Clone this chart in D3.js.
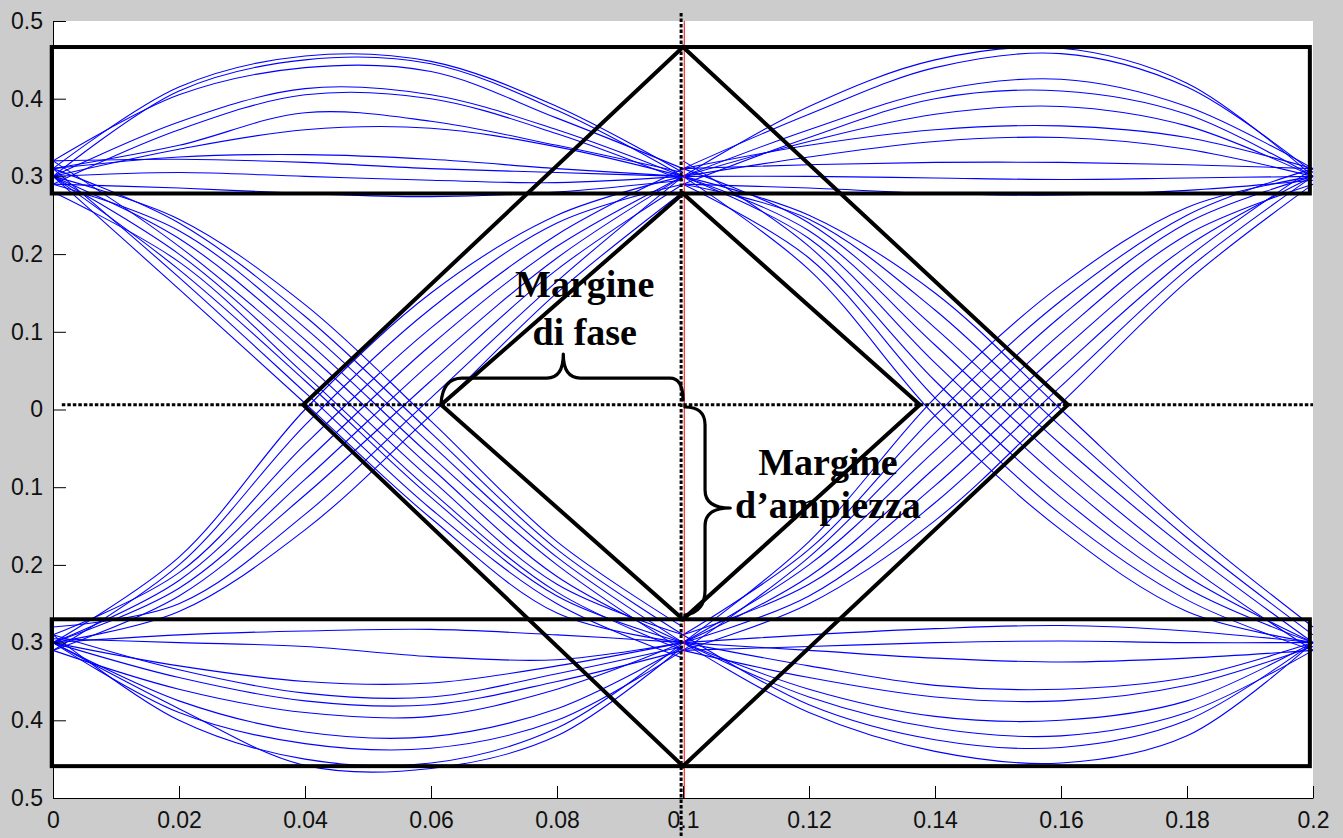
<!DOCTYPE html>
<html>
<head>
<meta charset="utf-8">
<script src="https://cdn.jsdelivr.net/npm/d3@7"></script>
<style>
  body { margin: 0; background: #cccccc; }
  svg { display: block; }
</style>
</head>
<body>
<svg width="1343" height="838"></svg>
<script>
var svg = d3.select("svg");

var width = 1343;
var height = 838;
var plotLeft = 53;
var plotRight = 1313;
var plotTop = 21;
var plotBottom = 798;

// tick labels (the minus signs are cut off in the original figure)
var xTicks = [0, 0.02, 0.04, 0.06, 0.08, 0.1, 0.12, 0.14, 0.16, 0.18, 0.2];
var yTicks = [0.5, 0.4, 0.3, 0.2, 0.1, 0, -0.1, -0.2, -0.3, -0.4, -0.5];

// sample instants of each half of the eye
var xLeft = [0, 0.02, 0.04, 0.06, 0.08, 0.1];
var xRight = [0.1, 0.12, 0.14, 0.16, 0.18, 0.2];

// traces, one value per sample instant
var highLeft = [
  [0.31, 0.415, 0.455, 0.448, 0.39, 0.305],
  [0.30, 0.41, 0.45, 0.445, 0.385, 0.30],
  [0.32, 0.405, 0.44, 0.435, 0.375, 0.31],
  [0.30, 0.37, 0.413, 0.405, 0.36, 0.30],
  [0.29, 0.36, 0.405, 0.40, 0.355, 0.295],
  [0.31, 0.34, 0.382, 0.371, 0.34, 0.305],
  [0.30, 0.335, 0.36, 0.362, 0.338, 0.30],
  [0.31, 0.325, 0.328, 0.322, 0.31, 0.30],
  [0.32, 0.322, 0.318, 0.31, 0.305, 0.30],
  [0.30, 0.305, 0.30, 0.295, 0.292, 0.30],
  [0.29, 0.285, 0.278, 0.274, 0.28, 0.295]
];
var lowLeft = [
  [-0.30, -0.29, -0.285, -0.283, -0.29, -0.30],
  [-0.295, -0.30, -0.305, -0.318, -0.322, -0.30],
  [-0.30, -0.33, -0.35, -0.352, -0.33, -0.30],
  [-0.29, -0.335, -0.365, -0.37, -0.34, -0.305],
  [-0.30, -0.345, -0.375, -0.38, -0.35, -0.31],
  [-0.31, -0.36, -0.39, -0.395, -0.36, -0.30],
  [-0.30, -0.375, -0.415, -0.421, -0.385, -0.305],
  [-0.30, -0.39, -0.43, -0.436, -0.40, -0.31],
  [-0.29, -0.40, -0.45, -0.455, -0.41, -0.30],
  [-0.30, -0.385, -0.458, -0.462, -0.42, -0.305]
];
var fallLeft = [
  [0.30, 0.245, 0.135, -0.015, -0.17, -0.28],
  [0.31, 0.24, 0.12, -0.03, -0.18, -0.29],
  [0.29, 0.23, 0.105, -0.045, -0.19, -0.30],
  [0.30, 0.22, 0.09, -0.06, -0.20, -0.31],
  [0.32, 0.21, 0.075, -0.075, -0.215, -0.30],
  [0.30, 0.20, 0.06, -0.09, -0.225, -0.29],
  [0.28, 0.19, 0.045, -0.105, -0.235, -0.31],
  [0.30, 0.18, 0.037, -0.113, -0.24, -0.30],
  [0.31, 0.17, 0.022, -0.128, -0.25, -0.32],
  [0.30, 0.155, 0.008, -0.14, -0.262, -0.30]
];
var riseLeft = [
  [-0.30, -0.19, 0.00, 0.15, 0.25, 0.30],
  [-0.31, -0.20, -0.02, 0.13, 0.24, 0.29],
  [-0.29, -0.21, -0.045, 0.105, 0.225, 0.31],
  [-0.30, -0.22, -0.068, 0.083, 0.21, 0.30],
  [-0.30, -0.23, -0.09, 0.06, 0.195, 0.30],
  [-0.31, -0.24, -0.11, 0.037, 0.18, 0.29],
  [-0.28, -0.25, -0.135, 0.015, 0.165, 0.30],
  [-0.30, -0.26, -0.155, -0.007, 0.15, 0.28]
];
var highRight = [
  [0.30, 0.39, 0.45, 0.465, 0.42, 0.30],
  [0.31, 0.38, 0.44, 0.458, 0.415, 0.305],
  [0.30, 0.36, 0.41, 0.425, 0.39, 0.31],
  [0.29, 0.35, 0.40, 0.41, 0.38, 0.30],
  [0.30, 0.345, 0.38, 0.39, 0.365, 0.30],
  [0.31, 0.34, 0.36, 0.365, 0.35, 0.31],
  [0.30, 0.325, 0.345, 0.35, 0.335, 0.30],
  [0.31, 0.315, 0.318, 0.318, 0.315, 0.31],
  [0.30, 0.30, 0.298, 0.296, 0.298, 0.30],
  [0.29, 0.285, 0.278, 0.276, 0.282, 0.295]
];
var lowRight = [
  [-0.30, -0.29, -0.282, -0.278, -0.285, -0.30],
  [-0.31, -0.305, -0.30, -0.298, -0.30, -0.30],
  [-0.30, -0.31, -0.32, -0.325, -0.32, -0.31],
  [-0.30, -0.33, -0.355, -0.36, -0.345, -0.30],
  [-0.31, -0.345, -0.37, -0.375, -0.355, -0.305],
  [-0.30, -0.36, -0.395, -0.40, -0.375, -0.30],
  [-0.30, -0.37, -0.41, -0.42, -0.39, -0.31],
  [-0.29, -0.38, -0.425, -0.435, -0.40, -0.30],
  [-0.30, -0.39, -0.44, -0.455, -0.42, -0.30]
];
var fallRight = [
  [0.30, 0.25, 0.15, 0.00, -0.15, -0.28],
  [0.29, 0.245, 0.128, -0.022, -0.165, -0.29],
  [0.31, 0.24, 0.105, -0.045, -0.18, -0.30],
  [0.30, 0.23, 0.083, -0.068, -0.20, -0.31],
  [0.30, 0.22, 0.06, -0.09, -0.215, -0.30],
  [0.32, 0.21, 0.037, -0.113, -0.23, -0.30],
  [0.29, 0.195, 0.015, -0.135, -0.245, -0.31],
  [0.30, 0.18, -0.008, -0.155, -0.26, -0.30]
];
var riseRight = [
  [-0.30, -0.17, 0.015, 0.16, 0.26, 0.30],
  [-0.29, -0.18, -0.008, 0.14, 0.25, 0.31],
  [-0.31, -0.19, -0.03, 0.12, 0.24, 0.30],
  [-0.30, -0.20, -0.053, 0.098, 0.225, 0.29],
  [-0.30, -0.215, -0.075, 0.075, 0.21, 0.30],
  [-0.29, -0.225, -0.098, 0.053, 0.195, 0.31],
  [-0.30, -0.24, -0.12, 0.03, 0.18, 0.30],
  [-0.31, -0.25, -0.143, 0.008, 0.165, 0.29]
];

// annotation shapes, in data units
var rectX = [-0.0002, 0.1995];
var rectHigh = [0.4665, 0.278];
var rectLow = [-0.270, -0.459];
var outerDiamond = [[0.1, 0.4665], [0.1611, 0.006], [0.1, -0.459], [0.0397, 0.006]];
var innerDiamond = [[0.1, 0.278], [0.1376, 0.006], [0.1, -0.270], [0.0616, 0.006]];
var dottedX = 0.0997;
var dottedY = 0.006;
var redX = 0.1002;
var phaseBrace = [[0.0616, 0.0084], [0.0619, 0.0405], [0.0649, 0.0405], [0.0784, 0.0405],
  [0.0810, 0.0405], [0.0810, 0.0714], [0.0810, 0.0405], [0.0837, 0.0405],
  [0.0979, 0.0405], [0.1, 0.0405], [0.1, 0.0122]];
var ampBrace = [[0.1003, 0.0032], [0.1035, 0.0032], [0.1035, -0.0199], [0.1035, -0.1036],
  [0.1035, -0.1268], [0.1075, -0.1268], [0.1035, -0.1268], [0.1035, -0.1499],
  [0.1035, -0.2323], [0.1035, -0.2606], [0.1003, -0.2645]];
var labels = [
  { text: "Margine", x: 0.0844, y: 0.1448 },
  { text: "di fase", x: 0.0844, y: 0.083 },
  { text: "Margine", x: 0.123, y: -0.0843 },
  { text: "d\u2019ampiezza", x: 0.123, y: -0.1396 }
];

var x = d3.scaleLinear().domain([0, 0.2]).range([plotLeft, plotRight]);
var y = d3.scaleLinear().domain([-0.5, 0.5]).range([plotBottom, plotTop]);

svg.append("rect")
   .attr("width", width)
   .attr("height", height)
   .attr("fill", "#cccccc");

svg.append("rect")
   .attr("x", x(0))
   .attr("y", y(0.5))
   .attr("width", x(0.2) - x(0))
   .attr("height", y(-0.5) - y(0.5))
   .attr("fill", "white");

var traceLine = d3.line()
  .x(function(d) { return x(d[0]); })
  .y(function(d) { return y(d[1]); })
  .curve(d3.curveCatmullRom.alpha(0.5));

drawTraces = function(xs, traces) {
  traces.forEach(function(t) {
    svg.append("path")
       .attr("d", traceLine(t.map(function(v, i) { return [xs[i], v]; })))
       .attr("fill", "none")
       .attr("stroke", "#0000ff")
       .attr("stroke-width", 1.1);
  });
};

drawTraces(xLeft, highLeft);
drawTraces(xLeft, lowLeft);
drawTraces(xLeft, fallLeft);
drawTraces(xLeft, riseLeft);
drawTraces(xRight, highRight);
drawTraces(xRight, lowRight);
drawTraces(xRight, fallRight);
drawTraces(xRight, riseRight);

// red marker at the sampling instant
svg.append("line")
   .attr("x1", x(redX)).attr("x2", x(redX))
   .attr("y1", y(0.5)).attr("y2", y(-0.5))
   .attr("stroke", "#ff0000")
   .attr("stroke-width", 1);

[rectHigh, rectLow].forEach(function(r) {
  svg.append("rect")
     .attr("x", x(rectX[0]))
     .attr("y", y(r[0]))
     .attr("width", x(rectX[1]) - x(rectX[0]))
     .attr("height", y(r[1]) - y(r[0]))
     .attr("fill", "none")
     .attr("stroke", "black")
     .attr("stroke-width", 4);
});

var shapeLine = d3.line()
  .x(function(d) { return x(d[0]); })
  .y(function(d) { return y(d[1]); });

[outerDiamond, innerDiamond].forEach(function(dm) {
  svg.append("path")
     .attr("d", shapeLine(dm) + "Z")
     .attr("fill", "none")
     .attr("stroke", "black")
     .attr("stroke-width", 4)
     .attr("stroke-linejoin", "miter");
});

// dotted guides
svg.append("line")
   .attr("x1", x(dottedX)).attr("x2", x(dottedX))
   .attr("y1", 13).attr("y2", height)
   .attr("stroke", "black")
   .attr("stroke-width", 3)
   .attr("stroke-dasharray", "3.5,2");

svg.append("line")
   .attr("x1", x(0.0014)).attr("x2", x(0.2))
   .attr("y1", y(dottedY)).attr("y2", y(dottedY))
   .attr("stroke", "black")
   .attr("stroke-width", 3)
   .attr("stroke-dasharray", "3.5,2");

// braces: M p0, Q p1 p2, L p3, Q p4 p5, Q p6 p7, L p8, Q p9 p10
braceD = function(p) {
  var P = p.map(function(d) { return x(d[0]) + "," + y(d[1]); });
  return "M" + P[0] + "Q" + P[1] + " " + P[2] + "L" + P[3] +
         "Q" + P[4] + " " + P[5] + "Q" + P[6] + " " + P[7] +
         "L" + P[8] + "Q" + P[9] + " " + P[10];
};

[phaseBrace, ampBrace].forEach(function(b) {
  svg.append("path")
     .attr("d", braceD(b))
     .attr("fill", "none")
     .attr("stroke", "black")
     .attr("stroke-width", 3.2)
     .attr("stroke-linecap", "round")
     .attr("stroke-linejoin", "round");
});

svg.selectAll(".note")
   .data(labels)
   .enter().append("text")
   .attr("class", "note")
   .attr("x", function(d) { return x(d.x); })
   .attr("y", function(d) { return y(d.y); })
   .attr("text-anchor", "middle")
   .attr("font-family", "'Liberation Serif', 'Times New Roman', serif")
   .attr("font-weight", "bold")
   .attr("font-size", "38px")
   .attr("fill", "black")
   .text(function(d) { return d.text; });

// axes, MATLAB style: ticks inside, box off
var xAxis = d3.axisBottom(x)
  .tickValues(xTicks)
  .tickSizeInner(-12)
  .tickSizeOuter(0)
  .tickPadding(14)
  .tickFormat(function(d) { return d3.format("~g")(d); });

var yAxis = d3.axisLeft(y)
  .tickValues(yTicks)
  .tickSizeInner(-13)
  .tickSizeOuter(0)
  .tickPadding(10)
  .tickFormat(function(d) { return d3.format("~g")(Math.abs(d)); });

var gx = svg.append("g")
   .attr("transform", "translate(0," + plotBottom + ")")
   .call(xAxis);

var gy = svg.append("g")
   .attr("transform", "translate(" + plotLeft + ",0)")
   .call(yAxis);

[gx, gy].forEach(function(g) {
  g.selectAll("path, line").attr("stroke", "#000").attr("stroke-width", 1);
  g.selectAll("text")
   .attr("font-family", "'Liberation Sans', Arial, sans-serif")
   .attr("font-size", "23px")
   .attr("fill", "#111");
});
</script>
</body>
</html>
